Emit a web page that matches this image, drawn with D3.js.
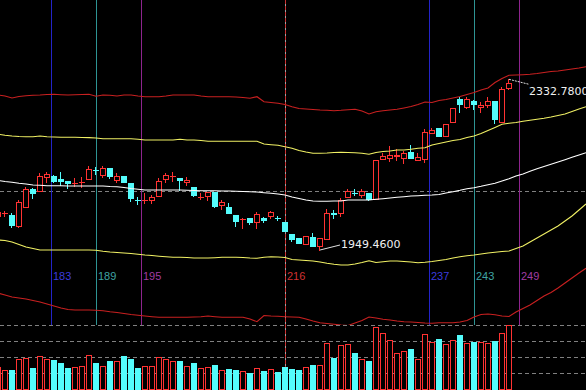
<!DOCTYPE html>
<html><head><meta charset="utf-8">
<script src="https://cdn.jsdelivr.net/npm/d3@7/dist/d3.min.js"></script>
<style>html,body{margin:0;padding:0;background:#000;overflow:hidden}</style>
</head><body>
<svg id="chart" width="586" height="390"></svg>
<script>
// ---------- DATA ----------
const firstBar = -1;           // index of first (partially visible) candle
const opens = [
2025.82,2031.43,2028.06,2003.36,2046.03,2086.45,2081.96,2113.40,2115.65,2108.91,
2104.42,2098.80,2101.05,2108.91,2129.57,2117.89,2133.61,2106.66,2115.65,2099.93,
2062.20,2061.10,2061.75,2070.73,2108.91,2114.52,2111.16,2102.17,2090.94,2067.36,
2070.73,2079.72,2050.52,2046.03,2028.06,2017.96,2021.33,2012.34,2021.33,2025.82,
2021.78,2012.34,1985.40,1976.41,1962.94,1978.66,1958.45,1974.17,2032.00,2032.56,
2068.49,2077.92,2072.98,2077.47,2064.00,2153.82,2156.07,2159.44,2156.07,2169.54,
2151.58,2153.82,2212.21,2223.44,2205.47,2236.91,2288.57,2270.60,2284.07,2270.60,
2275.09,2284.07,2236.91,2313.27];
const highs = [
2039.29,2037.05,2032.56,2061.75,2089.82,2088.70,2122.38,2124.63,2117.89,2124.63,
2104.42,2111.16,2113.40,2138.10,2135.86,2138.10,2133.61,2122.38,2115.65,2099.93,
2068.49,2077.47,2072.98,2111.16,2122.38,2124.63,2111.16,2113.40,2090.94,2077.47,
2079.72,2079.72,2061.75,2055.01,2028.06,2021.33,2021.33,2034.80,2023.57,2037.05,
2025.82,2012.34,1985.40,1976.41,1980.90,1987.64,1976.41,2041.54,2039.29,2066.24,
2086.45,2086.45,2086.45,2077.47,2151.58,2167.30,2183.02,2176.28,2171.79,2185.26,
2167.30,2221.19,2223.44,2223.44,2232.42,2268.35,2293.06,2293.06,2286.32,2281.83,
2293.06,2284.07,2315.51,2332.78];
const lows = [
2021.33,2025.82,2001.12,2001.12,2046.03,2066.24,2081.96,2102.17,2102.17,2095.44,
2088.70,2093.19,2090.94,2108.91,2120.14,2113.40,2111.16,2102.17,2102.17,2059.50,
2052.77,2055.01,2055.01,2070.73,2102.17,2104.42,2084.21,2095.44,2070.73,2064.00,
2061.75,2044.91,2041.54,2032.56,2003.36,1998.87,2007.85,1998.87,2012.34,2021.33,
2016.84,1992.13,1969.68,1965.18,1962.94,1958.45,1949.46,1974.17,2021.33,2025.82,
2068.49,2072.98,2068.49,2061.75,2064.00,2153.82,2149.33,2151.58,2144.84,2156.07,
2151.58,2147.09,2212.21,2205.47,2205.47,2236.91,2259.37,2268.35,2266.11,2259.37,
2270.60,2234.67,2236.91,2311.02];
const closes = [
2034.80,2032.56,2005.61,2057.93,2086.45,2077.47,2115.65,2120.14,2104.42,2104.42,
2099.93,2099.93,2102.17,2131.37,2128.67,2133.61,2115.65,2115.65,2102.17,2066.24,
2061.30,2061.75,2068.49,2104.42,2117.89,2115.65,2106.66,2106.66,2072.98,2068.49,
2079.72,2048.28,2057.26,2032.56,2014.59,2019.08,2012.34,2030.31,2016.84,2034.80,
2020.88,1992.13,1974.17,1965.18,1980.90,1958.45,1976.41,2032.56,2031.10,2061.75,
2081.96,2077.02,2081.96,2064.00,2151.58,2160.56,2162.81,2161.68,2167.30,2156.07,
2158.32,2214.46,2218.95,2205.47,2232.42,2268.35,2277.34,2288.57,2277.34,2275.09,
2284.07,2243.65,2311.02,2324.50];
const volumes = [
23,20,20,30.7,31.7,21.7,34,30.7,30,27.3,
21.7,22.7,24,35,27.3,24,29,29,34,31,
21.7,24,24,33.3,31,29.3,29,24,27.3,21.7,
23.3,25,20,21,20,19.3,17.3,21.7,19,20.7,
18.3,23.3,20.7,20,22.7,25,25,47.3,32.3,45.3,
46,37.3,31,29,62.7,57.3,50,37.3,39,41,
31,56,47.7,51,46,50,55,47.3,48.3,48,
47.3,49,57.3,65];

// indicator lines (shifted forward: indices -1 .. 83)
const midLine = [
2105.5,2103.3,2101.5,2099.3,2097.7,2095.4,2094.8,2093.9,2093.9,2093.9,
2093.2,2093.2,2093.2,2093.2,2093.2,2093.2,2092.1,2091.6,2089.8,2087.6,
2085.8,2084.2,2084.2,2084.2,2084.2,2084.2,2084.2,2083.5,2083.1,2082.6,
2082.6,2082.6,2082.0,2082.0,2081.3,2080.8,2080.4,2079.7,2078.1,2076.8,
2075.2,2073.0,2068.5,2065.1,2061.8,2059.5,2058.8,2058.8,2059.5,2059.5,
2061.8,2061.8,2061.8,2061.8,2063.3,2064.7,2066.2,2067.8,2069.2,2070.7,
2071.4,2072.3,2073.0,2074.1,2077.5,2080.4,2083.5,2087.1,2089.4,2092.5,
2096.1,2099.3,2104.4,2109.6,2115.6,2120.1,2126.2,2132.0,2137.0,2141.9,
2147.1,2152.3,2157.6,2162.8,2168.0];
const upperInner = [
2209.3,2207.1,2205.5,2204.4,2203.9,2203.9,2205.5,2203.9,2203.2,2202.6,
2202.6,2202.6,2202.1,2201.7,2201.0,2199.4,2199.4,2199.4,2199.4,2199.4,
2198.1,2196.5,2196.5,2196.5,2196.5,2196.5,2198.1,2196.5,2196.5,2195.4,
2193.6,2193.6,2193.6,2193.6,2193.6,2193.6,2193.6,2193.6,2187.5,2185.9,
2184.6,2181.5,2177.9,2172.9,2169.5,2166.6,2166.6,2167.3,2168.4,2168.9,
2168.4,2168.0,2166.6,2164.4,2168.4,2170.7,2171.8,2174.0,2174.0,2175.6,
2177.9,2179.2,2185.3,2188.6,2192.0,2195.4,2197.6,2202.1,2205.5,2211.1,
2217.8,2224.6,2231.8,2234.0,2235.8,2238.5,2240.7,2243.0,2245.2,2248.1,
2251.5,2254.9,2260.5,2266.1,2271.3];
const lowerInner = [
1971.9,1970.8,1967.4,1961.8,1956.2,1952.8,1949.5,1949.5,1949.5,1949.5,
1949.5,1949.5,1949.5,1949.5,1948.8,1946.5,1945.0,1943.9,1942.7,1941.6,
1939.8,1938.2,1937.1,1935.5,1934.2,1933.1,1933.1,1932.6,1931.5,1931.5,
1931.5,1932.2,1933.1,1933.1,1933.1,1932.6,1931.5,1930.8,1933.1,1934.4,
1933.7,1932.6,1928.1,1927.0,1925.9,1924.8,1922.5,1919.6,1917.4,1915.8,
1915.8,1918.0,1921.4,1925.4,1921.4,1923.2,1924.8,1924.8,1923.6,1922.5,
1920.9,1921.8,1923.6,1925.9,1928.1,1931.5,1934.4,1936.7,1938.2,1940.5,
1942.7,1944.3,1946.1,1947.2,1952.8,1958.4,1967.4,1976.4,1985.4,1994.4,
2003.4,2014.6,2025.8,2039.3,2052.8];
const upperOuter = [
2297.5,2295.3,2290.8,2294.2,2296.0,2296.9,2297.5,2298.7,2299.1,2298.2,
2297.5,2298.2,2298.7,2299.1,2294.6,2297.5,2296.9,2295.3,2297.5,2297.5,
2295.3,2293.7,2293.7,2293.7,2295.3,2297.5,2297.5,2297.5,2297.5,2295.3,
2293.7,2293.7,2293.7,2293.7,2293.1,2291.9,2290.1,2293.7,2282.5,2280.7,
2278.9,2276.2,2271.3,2267.2,2266.1,2265.0,2263.9,2263.2,2262.3,2263.2,
2264.5,2265.4,2261.6,2254.9,2260.0,2262.3,2263.9,2265.4,2268.4,2271.7,
2276.2,2281.8,2280.7,2285.2,2287.4,2290.8,2294.2,2298.7,2303.2,2308.8,
2313.3,2325.6,2334.6,2341.8,2342.5,2343.1,2344.0,2345.8,2348.1,2350.3,
2351.5,2353.7,2355.9,2358.2,2361.1];
const lowerOuter = [
1852.9,1848.4,1843.9,1841.7,1839.4,1836.1,1832.7,1828.2,1823.7,1819.2,
1815.9,1814.7,1814.7,1814.7,1814.1,1813.2,1810.9,1809.1,1806.9,1804.6,
1802.8,1801.3,1799.7,1798.3,1798.3,1798.3,1798.3,1798.3,1799.0,1799.7,
1801.3,1799.7,1798.3,1798.3,1798.3,1798.3,1794.5,1788.5,1802.4,1801.3,
1800.6,1799.7,1799.0,1798.3,1794.5,1790.0,1786.2,1784.4,1782.6,1781.0,
1779.9,1785.5,1791.1,1799.0,1796.8,1793.8,1792.3,1790.0,1788.5,1787.8,
1786.7,1785.5,1784.9,1786.0,1786.2,1786.2,1787.8,1791.1,1799.0,1804.6,
1805.7,1803.9,1801.3,1800.1,1810.2,1818.1,1826.0,1836.1,1846.2,1854.0,
1864.1,1875.4,1886.6,1897.8,1908.4];

const cycleLabels = ["183","189","195","216","237","243","249"];
const cyclePos = [6.64, 13.07, 19.5, 40.07, 60.64, 67.07, 73.5]; // in bar-index units
const refPrice = 2081.96;

// ---------- STYLE ----------
const W = 586, H = 390;
const priceBottom = 325, volTop = 325, volBottom = 390;
const UP = "#ff3232", DOWN = "#54fcfc";
const cycleStyle = {
  "183": {line:"#2323c8", text:"#3c3cdc"},
  "189": {line:"#2e9494", text:"#3fa3a3"},
  "195": {line:"#8e248e", text:"#a23ca2"},
  "216": {line:"#c83232", text:"#d03232", dashed:true},
  "237": {line:"#2323c8", text:"#3c3cdc"},
  "243": {line:"#2e9494", text:"#3fa3a3"},
  "249": {line:"#8e248e", text:"#a23ca2"}
};

// ---------- SCALES ----------
const x = d3.scaleLinear().domain([-1, 83]).range([-2, 586]);
const hiIdx = d3.maxIndex(highs), loIdx = d3.minIndex(lows);
const y = d3.scaleLinear().domain([lows[loIdx], highs[hiIdx]]).range([250, 79.3]);
const yv = d3.scaleLinear().domain([0, d3.max(volumes)]).range([volBottom, volTop]);

const svg = d3.select("#chart");
svg.append("rect").attr("width", W).attr("height", H).attr("fill", "#000");
const defs = svg.append("defs");
defs.append("clipPath").attr("id","pclip").append("rect").attr("x",0).attr("y",0).attr("width",W).attr("height",priceBottom);

const px = v => Math.round(v);

// ---------- grid / reference lines ----------
const grid = svg.append("g").attr("shape-rendering","crispEdges");
grid.append("line").attr("x1",0).attr("x2",W)
  .attr("y1", px(y(refPrice))+0.5).attr("y2", px(y(refPrice))+0.5)
  .attr("stroke","#808080").attr("stroke-dasharray","4,3");
yv.ticks; // volume grid at quarters
[0.25,0.5,0.75,1].forEach(f => {
  const yy = Math.floor(yv(d3.max(volumes)*f)) + 0.5;
  grid.append("line").attr("x1",0).attr("x2",W).attr("y1",yy).attr("y2",yy)
    .attr("stroke","#808080").attr("stroke-dasharray","4,3");
});

// cycle vertical lines
cycleLabels.forEach((lab,k) => {
  const st = cycleStyle[lab];
  const cx = Math.floor(x(cyclePos[k])) + 0.5;
  if (st.dashed) {
    grid.append("line").attr("x1",cx).attr("x2",cx).attr("y1",0).attr("y2",H)
      .attr("stroke","#a0a0a0").attr("stroke-dasharray","2,4").attr("stroke-dashoffset",-4);
    grid.append("line").attr("x1",cx).attr("x2",cx).attr("y1",0).attr("y2",H)
      .attr("stroke",st.line).attr("stroke-dasharray","4,2");
  } else {
    grid.append("line").attr("x1",cx).attr("x2",cx).attr("y1",0).attr("y2",priceBottom)
      .attr("stroke",st.line);
  }
  svg.append("text").attr("x", cx+1.5).attr("y", 280)
    .attr("font-family","Liberation Sans, Arial, sans-serif").attr("font-size",11)
    .attr("fill", st.text).text(lab);
});

// ---------- candles ----------
const cg = svg.append("g").attr("clip-path","url(#pclip)").attr("shape-rendering","crispEdges");
opens.forEach((o,i) => {
  const idx = firstBar + i;
  const c = closes[i], h = highs[i], l = lows[i];
  const cx = px(x(idx));
  const up = c >= o;
  const col = up ? UP : DOWN;
  const yh = px(y(h)), yl = px(y(l));
  const top = px(y(Math.max(o,c))), bot = px(y(Math.min(o,c)));
  cg.append("line").attr("x1",cx-0.5).attr("x2",cx-0.5).attr("y1",yh).attr("y2",yl+1).attr("stroke",col);
  if (bot - top < 1) {
    cg.append("line").attr("x1",cx-3).attr("x2",cx+3).attr("y1",top+0.5).attr("y2",top+0.5).attr("stroke",col);
  } else if (up) {
    cg.append("rect").attr("x",cx-2.5).attr("y",top+0.5).attr("width",5).attr("height",bot-top)
      .attr("fill","#000").attr("stroke",col);
  } else {
    cg.append("rect").attr("x",cx-3).attr("y",top).attr("width",6).attr("height",bot-top+1)
      .attr("fill",col);
  }
});

// ---------- volume ----------
const vg = svg.append("g").attr("shape-rendering","crispEdges");
volumes.forEach((v,i) => {
  const idx = firstBar + i;
  const up = closes[i] >= opens[i];
  const cx = px(x(idx));
  const top = px(yv(v));
  if (up) {
    vg.append("rect").attr("x",cx-2.5).attr("y",top+0.5).attr("width",5).attr("height",volBottom-top-1)
      .attr("fill","#000").attr("stroke",UP);
  } else {
    vg.append("rect").attr("x",cx-3).attr("y",top).attr("width",6).attr("height",volBottom-top)
      .attr("fill",DOWN);
  }
});

// ---------- indicator lines ----------
const lg = svg.append("g").attr("clip-path","url(#pclip)");
const line = d3.line().x((d,i) => x(firstBar + i)).y(d => y(d));
[[upperOuter,"#c82020"],[lowerOuter,"#c82020"],[upperInner,"#f0f064"],[lowerInner,"#f0f064"],[midLine,"#ffffff"]]
.forEach(([arr,col]) => {
  lg.append("path").attr("d", line(arr)).attr("fill","none").attr("stroke",col).attr("stroke-width",1.1);
});

// ---------- high / low labels ----------
const fmt = d3.format(".4f");
const lab = svg.append("g").attr("font-family","DejaVu Sans, sans-serif").attr("font-size",11).attr("fill","#f0f0f0");
{
  const hx = x(firstBar + hiIdx), hy = y(highs[hiIdx]);
  svg.append("line").attr("x1",hx).attr("y1",hy).attr("x2",hx+20).attr("y2",hy+5)
    .attr("stroke","#e0e0e0").attr("stroke-dasharray","2,1");
  lab.append("text").attr("x",hx+20).attr("y",hy+16).text(fmt(highs[hiIdx]));
  const lx = x(firstBar + loIdx), ly = y(lows[loIdx]);
  svg.append("line").attr("x1",lx).attr("y1",ly).attr("x2",lx+20).attr("y2",ly-5)
    .attr("stroke","#e0e0e0");
  lab.append("text").attr("x",lx+21).attr("y",ly-2).text(fmt(lows[loIdx]));
}
</script>
</body></html>
